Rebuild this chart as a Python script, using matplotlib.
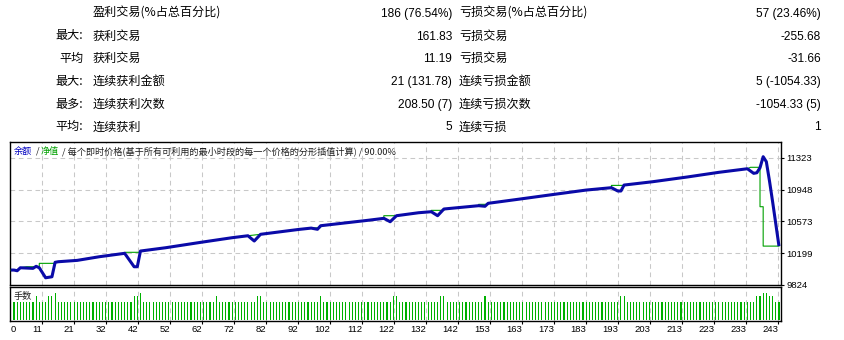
#______importing libraries__________
import numpy as np
import matplotlib.pyplot as plt

plt.rcParams['font.family'] = ['Noto Sans CJK SC', 'DejaVu Sans']

#______summary table (text rows above the chart)__________
row_prefix = ["", "最大:", "平均", "最大:", "最多:", "平均:"]
win_labels = ["盈利交易(%占总百分比)", "获利交易", "获利交易", "连续获利金额", "连续获利次数", "连续获利"]
win_values = ["186 (76.54%)", "161.83", "11.19", "21 (131.78)", "208.50 (7)", "5"]
loss_labels = ["亏损交易(%占总百分比)", "亏损交易", "亏损交易", "连续亏损金额", "连续亏损次数", "连续亏损"]
loss_values = ["57 (23.46%)", "-255.68", "-31.66", "5 (-1054.33)", "-1054.33 (5)", "1"]

#______balance / equity curve (trade no. -> account value)________________________________
balance_trade = [0, 1, 2, 3, 7, 8, 9, 11, 13, 14, 15, 21, 28, 36, 39, 40, 41, 49, 60, 70,
                 75, 77, 79, 91, 95, 97, 98, 113, 118, 120, 122, 129, 133, 135, 137, 148, 150, 151, 161, 172,
                 182, 190, 192, 193, 194, 203, 214, 224, 233, 235, 236, 237, 238, 239, 240, 241, 242, 243]
balance_value = [10000, 10000, 9992, 10027, 10020, 10044, 10027, 9909, 9921, 10091, 10098, 10114, 10157, 10197, 10039, 10039, 10224, 10263, 10326, 10381,
                 10404, 10342, 10421, 10478, 10494, 10480, 10522, 10586, 10609, 10569, 10640, 10675, 10687, 10640, 10719, 10758, 10751, 10786, 10836, 10892,
                 10942, 10970, 10931, 10931, 11001, 11040, 11096, 11151, 11193, 11139, 11146, 11205, 11335, 11276, 11049, 10801, 10542, 10282]

equity_trade = [0, 1, 2, 3, 5, 9, 9, 14, 14, 15, 21, 28, 36, 36, 41, 41, 49, 60, 70, 75,
                79, 91, 95, 98, 98, 113, 118, 118, 122, 129, 133, 133, 137, 137, 148, 148, 151, 151, 161, 172,
                182, 190, 190, 194, 194, 203, 214, 224, 233, 234, 237, 237, 238, 238, 243]
equity_value = [10000, 10000, 9992, 10027, 10039, 10039, 10079, 10079, 10091, 10098, 10114, 10157, 10197, 10209, 10209, 10224, 10263, 10326, 10381, 10404,
                10421, 10478, 10494, 10500, 10522, 10586, 10609, 10640, 10640, 10675, 10687, 10703, 10703, 10719, 10758, 10774, 10774, 10786, 10836, 10892,
                10942, 10970, 10997, 10997, 11001, 11040, 11096, 11151, 11193, 11210, 11210, 10746, 10746, 10282, 10282]

#______lots per trade (trades 1..243)__________
lots = [0.10, 0.10, 0.10, 0.10, 0.10, 0.10, 0.10, 0.13, 0.10, 0.10,
        0.10, 0.13, 0.13, 0.15, 0.10, 0.10, 0.10, 0.10, 0.10, 0.10,
        0.10, 0.10, 0.10, 0.10, 0.10, 0.10, 0.10, 0.10, 0.10, 0.10,
        0.10, 0.10, 0.10, 0.10, 0.10, 0.10, 0.10, 0.10, 0.13, 0.13,
        0.15, 0.10, 0.10, 0.10, 0.10, 0.10, 0.10, 0.10, 0.10, 0.10,
        0.10, 0.10, 0.10, 0.10, 0.10, 0.10, 0.10, 0.10, 0.10, 0.10,
        0.10, 0.10, 0.10, 0.10, 0.13, 0.10, 0.10, 0.10, 0.10, 0.10,
        0.10, 0.10, 0.10, 0.10, 0.10, 0.10, 0.10, 0.13, 0.13, 0.10,
        0.10, 0.10, 0.10, 0.10, 0.10, 0.10, 0.10, 0.10, 0.10, 0.10,
        0.10, 0.10, 0.10, 0.10, 0.10, 0.10, 0.10, 0.13, 0.10, 0.10,
        0.10, 0.10, 0.10, 0.10, 0.10, 0.10, 0.10, 0.10, 0.10, 0.10,
        0.10, 0.10, 0.10, 0.10, 0.10, 0.10, 0.10, 0.10, 0.10, 0.10,
        0.13, 0.13, 0.10, 0.10, 0.10, 0.10, 0.10, 0.10, 0.10, 0.10,
        0.10, 0.10, 0.10, 0.10, 0.10, 0.13, 0.13, 0.10, 0.10, 0.10,
        0.10, 0.10, 0.10, 0.10, 0.10, 0.10, 0.10, 0.10, 0.10, 0.13,
        0.10, 0.10, 0.10, 0.10, 0.10, 0.10, 0.10, 0.10, 0.10, 0.10,
        0.10, 0.10, 0.10, 0.10, 0.10, 0.10, 0.10, 0.10, 0.10, 0.10,
        0.10, 0.10, 0.10, 0.10, 0.10, 0.10, 0.10, 0.10, 0.10, 0.10,
        0.10, 0.10, 0.10, 0.10, 0.10, 0.10, 0.10, 0.10, 0.10, 0.10,
        0.10, 0.10, 0.13, 0.13, 0.10, 0.10, 0.10, 0.10, 0.10, 0.10,
        0.10, 0.10, 0.10, 0.10, 0.10, 0.10, 0.10, 0.10, 0.10, 0.10,
        0.10, 0.10, 0.10, 0.10, 0.10, 0.10, 0.10, 0.10, 0.10, 0.10,
        0.10, 0.10, 0.10, 0.10, 0.10, 0.10, 0.10, 0.10, 0.10, 0.10,
        0.10, 0.10, 0.10, 0.10, 0.10, 0.13, 0.13, 0.15, 0.15, 0.13,
        0.13, 0.10, 0.10]
trade_no = np.arange(1, len(lots) + 1)

y_ticks = [9824, 10199, 10573, 10948, 11323]
x_labels = ["11", "21", "32", "42", "52", "62", "72", "82", "92", "102", "112", "122",
            "132", "142", "153", "163", "173", "183", "193", "203", "213", "223", "233", "243"]

#______layout helpers (pixel geometry of the 845x340 picture)__________
W, H = 845, 340
grid_x = 9.953 + 10.123 * np.arange(len(x_labels))   # dashed verticals every 32 px
xlim = (-0.27, 243.64)
num_font = "Liberation Sans"
grid_kw = dict(color="#c8c8c8", linestyle=(0, (4.5, 3.5)), linewidth=0.75)

fig = plt.figure(figsize=(W / 100, H / 100), dpi=100)

#______main balance chart__________
ax = fig.add_axes([10 / W, 1 - 285 / H, 771 / W, 143 / H])
ax.plot(equity_trade, equity_value, color="#00a000", lw=0.8, zorder=3)
ax.plot(balance_trade, balance_value, color="#0a0aa8", lw=2.2, zorder=4,
        solid_joinstyle="round", solid_capstyle="butt")
ax.set_xlim(*xlim)
ax.set_ylim(9824, 11508)
ax.set_xticks(grid_x)
ax.set_yticks(y_ticks)
ax.yaxis.tick_right()
ax.tick_params(axis="x", length=0, labelbottom=False)
ax.tick_params(axis="y", length=2.2, width=0.8, pad=1.5, labelsize=6.8,
               labelfontfamily=num_font, colors="black")
ax.grid(True, **grid_kw)
for s in ax.spines.values():
    s.set_linewidth(1.0)

#______lots panel__________
vx = fig.add_axes([10 / W, 1 - 321 / H, 771 / W, 34 / H])
vx.bar(trade_no, lots, width=0.35, color="#00b000", zorder=3)
vx.set_xlim(*xlim)
vx.set_ylim(-0.006, 0.182)
vx.set_yticks([])
vx.set_xticks(grid_x, labels=x_labels)
vx.set_xticks([1.6], labels=["0"], minor=True)
vx.tick_params(axis="x", which="major", length=2.2, width=0.8, pad=1.0, labelsize=6.8,
               labelfontfamily=num_font)
vx.tick_params(axis="x", which="minor", length=0, pad=3.2, labelsize=6.8,
               labelfontfamily=num_font)
for lab in vx.get_xticklabels() + vx.get_xticklabels(minor=True):
    lab.set_ha("right")
vx.grid(True, axis="x", which="major", **grid_kw)
for s in vx.spines.values():
    s.set_linewidth(1.0)

#______overlay for all free text (pixel coordinates)__________
ov = fig.add_axes([0, 0, 1, 1])
ov.set_xlim(0, W)
ov.set_ylim(H, 0)
ov.axis("off")

for r in range(len(row_prefix)):
    yb = 16.8 + 22.7 * r
    ov.text(83.5, yb, row_prefix[r], ha="right", va="baseline", fontsize=8.7)
    ov.text(92.5, yb, win_labels[r], ha="left", va="baseline", fontsize=8.7)
    ov.text(452, yb, win_values[r], ha="right", va="baseline", fontsize=8.6, family=num_font)
    ov.text(459, yb, loss_labels[r], ha="left", va="baseline", fontsize=8.7)
    ov.text(821, yb, loss_values[r], ha="right", va="baseline", fontsize=8.6, family=num_font)

ov.text(14, 151, "余额", color="#0000c0", fontsize=6.6, va="center")
ov.text(35.5, 151, "/", color="#202020", fontsize=6.6, va="center")
ov.text(40.5, 151, "净值", color="#00a000", fontsize=6.6, va="center")
ov.text(62, 151, "/ 每个即时价格(基于所有可利用的最小时段的每一个价格的分形插值计算) / 90.00%",
        color="#202020", fontsize=6.6, va="center")
ov.text(14, 296.5, "手数", color="#202020", fontsize=6.6, va="center")

plt.savefig("out.png", dpi=100)
